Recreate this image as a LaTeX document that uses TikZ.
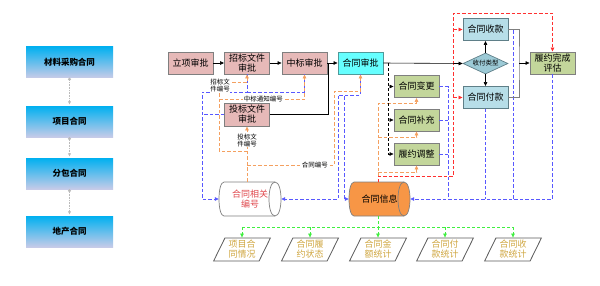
\documentclass[tikz,border=0pt]{standalone}
\usepackage{fontspec}
\newfontfamily\cjk{Noto Sans CJK SC}
\usetikzlibrary{shapes.geometric,arrows.meta}
\definecolor{pinkf}{HTML}{E6B9B8}
\definecolor{boxgray}{HTML}{7F7F7F}
\definecolor{darkgray}{HTML}{5A5A5A}
\definecolor{cyanf}{HTML}{66FFFF}
\definecolor{cyanb}{HTML}{4F9A9A}
\definecolor{olivef}{HTML}{C3D69B}
\definecolor{bluef}{HTML}{B7DEE8}
\definecolor{blueb}{HTML}{5F7F88}
\definecolor{diamf}{HTML}{9CCAD6}
\definecolor{orangef}{HTML}{F79646}
\definecolor{orangel}{HTML}{F4A060}
\definecolor{redl}{HTML}{FF3030}
\definecolor{bluel}{HTML}{5858FF}
\definecolor{greenl}{HTML}{40EE40}
\definecolor{goldt}{HTML}{CFA640}
\definecolor{redt}{HTML}{E0484D}
\definecolor{ltop}{HTML}{00B0F0}
\definecolor{lbot}{HTML}{C6CBE8}
\definecolor{grayl}{HTML}{BBBBBB}
\newcommand\mycyl[3]{%
 \filldraw[fill=#3, draw=boxgray, line width=0.7pt] (#1+5,182) -- (#2-6,182) .. controls (#2+2,182) and (#2+2,216) .. (#2-6,216) -- (#1+5,216) .. controls (#1-1.67,216) and (#1-1.67,182) .. (#1+5,182) -- cycle;
 \draw[boxgray, line width=0.7pt] (#2-6,182) .. controls (#2-14,182) and (#2-14,216) .. (#2-6,216);}
\begin{document}
\begin{tikzpicture}[x=1pt,y=-1pt,
  every node/.style={font=\cjk\fontsize{9}{10}\selectfont, inner sep=0pt, align=center},
  pinkbox/.style={draw=boxgray, line width=0.9pt, fill=pinkf, minimum width=45pt, minimum height=22pt},
  cyanbox/.style={pinkbox, fill=cyanf, draw=cyanb},
  olivebox/.style={pinkbox, fill=olivef},
  bluebox/.style={pinkbox, fill=bluef, draw=blueb},
  diam/.style={diamond, aspect=2.1, minimum width=45pt, minimum height=21pt, draw=blueb, line width=0.7pt, fill=diamf, font=\cjk\fontsize{6.5}{7}\selectfont},
  leftbox/.style={top color=ltop, bottom color=lbot, minimum width=87pt, minimum height=31pt, font=\cjk\bfseries\fontsize{8.5}{10}\selectfont},
  cylnode/.style={minimum height=34pt},
  para/.style={trapezium, trapezium left angle=64, trapezium right angle=116, trapezium stretches=true, minimum width=57pt, minimum height=23pt, draw=darkgray, line width=0.8pt, text=goldt},
  lbl/.style={font=\cjk\fontsize{6.5}{7}\selectfont, fill=white, inner sep=0.5pt},
  >={Triangle[length=4pt,width=3.5pt]},
  blk/.style={draw=black, line width=0.6pt},
  blkd/.style={draw=black, line width=0.6pt, dash pattern=on 3pt off 2pt},
  gl/.style={draw=boxgray, line width=0.7pt},
  oline/.style={draw=orangel, line width=0.7pt, dash pattern=on 3.5pt off 2pt},
  rline/.style={draw=redl, line width=0.7pt, dash pattern=on 3.5pt off 2pt},
  bline/.style={draw=bluel, line width=0.7pt, dash pattern=on 3.5pt off 2pt},
  grline/.style={draw=greenl, line width=0.7pt, dash pattern=on 3pt off 2pt},
  dotl/.style={draw=grayl, line width=0.6pt, densely dotted, {Circle[length=3pt,fill=grayl]}-{Triangle[length=3pt,width=3pt,fill=grayl]}, shorten >=1.5pt}
]
\useasboundingbox (0,0) rectangle (600,285);

% left column
\node[leftbox] (m1) at (69.5,62) {材料采购合同};
\node[leftbox] (m2) at (69.5,121.5) {项目合同};
\node[leftbox] (m3) at (69.5,173.5) {分包合同};
\node[leftbox] (m4) at (69.5,231.5) {地产合同};
\draw[dotl] (m1.south) -- (m2.north);
\draw[dotl] (m2.south) -- (m3.north);
\draw[dotl] (m3.south) -- (m4.north);

% cylinders (outlines)
\mycyl{219}{281}{white}
\mycyl{349}{410}{orangef}

% main nodes
\node[pinkbox] (lx) at (190.5,63) {立项审批};
\node[pinkbox] (zb) at (247,63) {招标文件\\审批};
\node[pinkbox] (zhb) at (304.5,63) {中标审批};
\node[cyanbox] (hs) at (360.5,63) {合同审批};
\node[pinkbox, minimum height=23pt] (tb) at (247,114.5) {投标文件\\审批};
\node[olivebox] (bg) at (416.5,86.5) {合同变更};
\node[olivebox] (bc) at (416.5,120) {合同补充};
\node[olivebox] (tz) at (416.5,154) {履约调整};
\node[bluebox] (sk) at (485.5,29.5) {合同收款};
\node[diam] (lxing) at (485.5,63.5) {收付类型};
\node[bluebox] (fk) at (485.5,97.5) {合同付款};
\node[olivebox] (pg) at (552.5,63) {履约完成\\评估};
\node[cylnode, minimum width=62pt, text=redt] (c1) at (250,199) {合同相关\\编号};
\node[cylnode, minimum width=61pt] (c2) at (379.5,199) {合同信息};

\node[para] (p1) at (242,249.5) {项目合\\同情况};
\node[para] (p2) at (310,249.5) {合同履\\约状态};
\node[para] (p3) at (378,249.5) {合同金\\额统计};
\node[para] (p4) at (445,249.5) {合同付\\款统计};
\node[para] (p5) at (513,249.5) {合同收\\款统计};

% helper coordinates
\coordinate (j1) at (328,63);
\coordinate (j2) at (519,63);
\coordinate (d0) at (388,63);
\coordinate (g0) at (0,227);
\coordinate (c2t) at (378,182);

% blue dashed flows
\draw[bline,->] (zb.south) -- (247,92) -- (202,92) -- (202,199) -- (c1.west);
\draw[bline] (zhb.south) -- (304.5,92) -- (247,92);
\draw[bline] (tb.west) -- (202,114.5);
\draw[bline,->] (hs.south) -- (360.5,95) -- (338,95) -- (338,199) -- (c1.east);
\draw[bline,->] (hs.south) -- (360.5,95) -- (344,95) -- (344,199) -- (c2.west);
\draw[bline] (bg.east) -- (448,86.5) -- (448,199);
\draw[bline] (bc.east) -- (448,120);
\draw[bline] (tz.east) -- (448,154);
\draw[bline] (sk.east) -- (513,29.5) -- (513,199);
\draw[bline] (fk.south) -- (485.5,199);
\draw[bline,->] (pg.south) -- (552.5,199) -- (c2.east);

% orange dashed flows
\draw[oline,->] (tb.south |- c1.north) -- node[lbl, pos=0.75] (l4) {投标文\\件编号} (tb.south);
\draw[oline,->] (247,151) -- (219,151) -- (219,82) -- (247,82) -- (zb.south);
\draw[oline,->] (219,99) -- node[lbl, pos=0.52] (l2) {中标通知编号} (304.5,99) -- (zhb.south);
\draw[oline,->] (247,165) -- node[lbl, pos=0.78] (l3) {合同编号} (334,165) -- (334,91) -- (360.5,91) -- (hs.south);
\node[lbl] (l1) at (220,85.5) {招标文\\件编号};
\draw[oline,->] (c2t) -- (378,103) -- (416.5,103) -- (bg.south);
\draw[oline,->] (378,137) -- (416.5,137) -- (bc.south);
\draw[oline,->] (378,172) -- (416.5,172) -- (tz.south);

% red dashed flows
\draw[rline,->] (c2t) -- (378,176) -- (453,176) -- (453,13) -- (552.5,13) -- (pg.north);
\draw[rline,->] (453,29.5) -- (sk.west);
\draw[rline,->] (453,97.5) -- (fk.west);

% black flows
\draw[blk,->] (lx) -- (zb);
\draw[blk,->] (zb) -- (zhb);
\draw[blk,->] (zhb) -- (hs);
\draw[blk] (tb.east) -| (j1);
\draw[blk,->] (hs.east) -- (lxing.west);
\draw[blk,->] (lxing) -- (sk);
\draw[blk,->] (lxing) -- (fk);
\draw[gl] (sk.east) -| (j2) |- (fk.east);
\draw[blk,->] (j2) -- (pg.west);
\draw[blkd,->] (d0) |- (bg.west);
\draw[blkd,->] (d0) |- (bc.west);
\draw[blkd,->] (d0) |- (tz.west);

% green dashed flows
\draw[grline] (c2.south -| c2t) -- (c2t |- g0);
\draw[grline] (p1.north |- g0) -- (p5.north |- g0);
\draw[grline,->] (p1.north |- g0) -- (p1.north);
\draw[grline,->] (p2.north |- g0) -- (p2.north);
\draw[grline,->] (p3.north |- g0) -- (p3.north);
\draw[grline,->] (p4.north |- g0) -- (p4.north);
\draw[grline,->] (p5.north |- g0) -- (p5.north);
\end{tikzpicture}
\end{document}
